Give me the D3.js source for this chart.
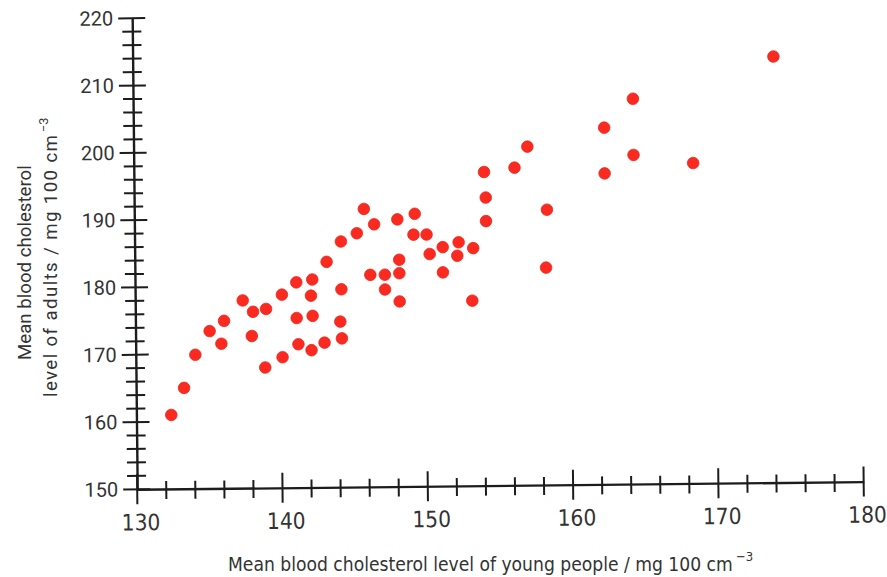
<!DOCTYPE html>
<html><head><meta charset="utf-8">
<script src="https://cdn.jsdelivr.net/npm/d3@7"></script>
<style>body{margin:0;background:#fff}</style>
</head><body>
<svg id="chart" width="887" height="577"></svg>
<script>
// Mean blood cholesterol: young people (x) vs adults (y), mg 100 cm^-3
const young = [132.4,133.3,134.1,135.1,135.9,136.1,137.4,138.1,138.0,139.0,
  138.9,140.1,140.1,141.1,141.1,141.2,142.2,142.1,142.2,142.1,
  143.0,143.2,144.2,144.2,144.1,144.2,145.3,145.8,146.2,146.5,
  147.2,147.2,148.1,148.2,148.2,148.2,149.3,149.2,150.1,150.3,
  151.2,151.2,152.3,152.2,153.3,153.2,154.1,154.2,154.2,156.2,
  157.1,158.4,158.3,162.4,162.4,164.4,164.4,168.5,174.1];
const adults = [161.0,165.0,169.9,173.4,171.5,174.9,177.9,176.2,172.6,176.6,
  167.9,178.7,169.4,180.5,175.2,171.3,180.9,178.5,175.5,170.4,
  171.5,183.5,186.5,179.4,174.6,172.1,187.7,191.3,181.5,189.0,
  181.5,179.3,189.7,183.7,181.7,177.5,190.5,187.4,187.4,184.5,
  185.5,181.75,186.2,184.2,185.3,177.5,196.6,192.8,189.3,197.2,
  200.3,190.9,182.3,203.0,196.2,207.25,198.9,197.6,213.3];
const xTickValues = [130,140,150,160,170,180];
const yTickValues = [150,160,170,180,190,200,210,220];
const xMinorStep = 2, yMinorStep = 2;
const xTitle = "Mean blood cholesterol level of young people / mg 100 cm";
const yTitle1 = "Mean blood cholesterol";
const yTitle2 = "level of adults / mg 100 cm";
const unitExp = "\u22123";

const W = 887, H = 577;
const ink = "#1c1c1c", txt = "#333";
const narrow = "'Liberation Sans Narrow','DejaVu Sans Condensed','Roboto Condensed',sans-serif";
const regular = "Roboto,'Liberation Sans',Arial,sans-serif";

const svg = d3.select("#chart");
svg.append("rect").attr("width", W).attr("height", H).attr("fill", "#fff");

const x = d3.scaleLinear().domain([130, 180]).range([137.2, 863.7]);
const y = d3.scaleLinear().domain([150, 220]).range([489.3, 18.2]);

// whole plot slightly rotated, as in the scanned original
const g = svg.append("g").attr("transform", "rotate(-0.61,140,489)");

// x axis
const gx = g.append("g").attr("transform", `translate(0,${y(150)})`)
  .call(d3.axisBottom(x).tickValues(xTickValues).tickSize(0).tickPadding(25).tickFormat(d3.format("d")));
gx.select(".domain").attr("stroke", ink).attr("stroke-width", 2.4);
gx.selectAll(".tick text").attr("font-family", narrow).attr("font-size", 22.5).attr("fill", txt).attr("dx", 3);
gx.selectAll("line.mt").data(d3.range(130, 180.1, xMinorStep)).join("line").attr("class", "mt")
  .attr("x1", d => x(d)).attr("x2", d => x(d))
  .attr("y1", d => d % 10 === 0 ? -15 : -8).attr("y2", d => d % 10 === 0 ? 15 : 10)
  .attr("stroke", ink).attr("stroke-width", 2);

// y axis
const gy = g.append("g").attr("transform", `translate(${x(130)},0)`)
  .call(d3.axisLeft(y).tickValues(yTickValues).tickSize(0).tickPadding(19).tickFormat(d3.format("d")));
gy.select(".domain").attr("stroke", ink).attr("stroke-width", 2.4);
gy.selectAll(".tick text").attr("font-family", regular).attr("font-size", 20).attr("fill", txt);
gy.selectAll("line.mt").data(d3.range(150, 220.1, yMinorStep)).join("line").attr("class", "mt")
  .attr("y1", d => y(d)).attr("y2", d => y(d))
  .attr("x1", d => d % 10 === 0 ? -14 : -10).attr("x2", d => d % 10 === 0 ? 13 : 9)
  .attr("stroke", ink).attr("stroke-width", 2);

// points
g.append("g").selectAll("circle").data(d3.zip(young, adults)).join("circle")
  .attr("cx", d => x(d[0])).attr("cy", d => y(d[1])).attr("r", 5.8)
  .attr("fill", "#fb2a20").attr("stroke", "#ee2419").attr("stroke-width", 0.8);

function fit(sel, target) {
  const len = sel.node().getComputedTextLength();
  const fs = parseFloat(sel.attr("font-size"));
  sel.attr("font-size", fs * target / len);
  return fs * target / len;
}

// x title
const xt = svg.append("text").attr("x", 228).attr("y", 571)
  .attr("font-family", narrow).attr("font-size", 20).attr("fill", txt).text(xTitle);
const xfs = fit(xt, 505);
svg.append("text").attr("x", 228 + 505 + 3).attr("y", 571 - 0.5 * xfs)
  .attr("font-family", narrow).attr("font-size", xfs * 0.68).attr("fill", txt).text(unitExp);

// y title (two lines, rotated)
const y1g = svg.append("g").attr("transform", "translate(31,360) rotate(-90)");
const yt1 = y1g.append("text").attr("font-family", regular).attr("font-size", 18).attr("fill", txt).text(yTitle1);
const yfs = fit(yt1, 195);
const y2g = svg.append("g").attr("transform", "translate(57,397) rotate(-90)");
const y2len = 262;
y2g.append("text").attr("font-family", regular).attr("font-size", yfs).attr("fill", txt)
  .attr("textLength", y2len).attr("lengthAdjust", "spacing").text(yTitle2);
y2g.append("text").attr("x", y2len + 3).attr("y", -0.5 * yfs)
  .attr("font-family", regular).attr("font-size", yfs * 0.68).attr("fill", txt).text(unitExp);
</script>
</body></html>
